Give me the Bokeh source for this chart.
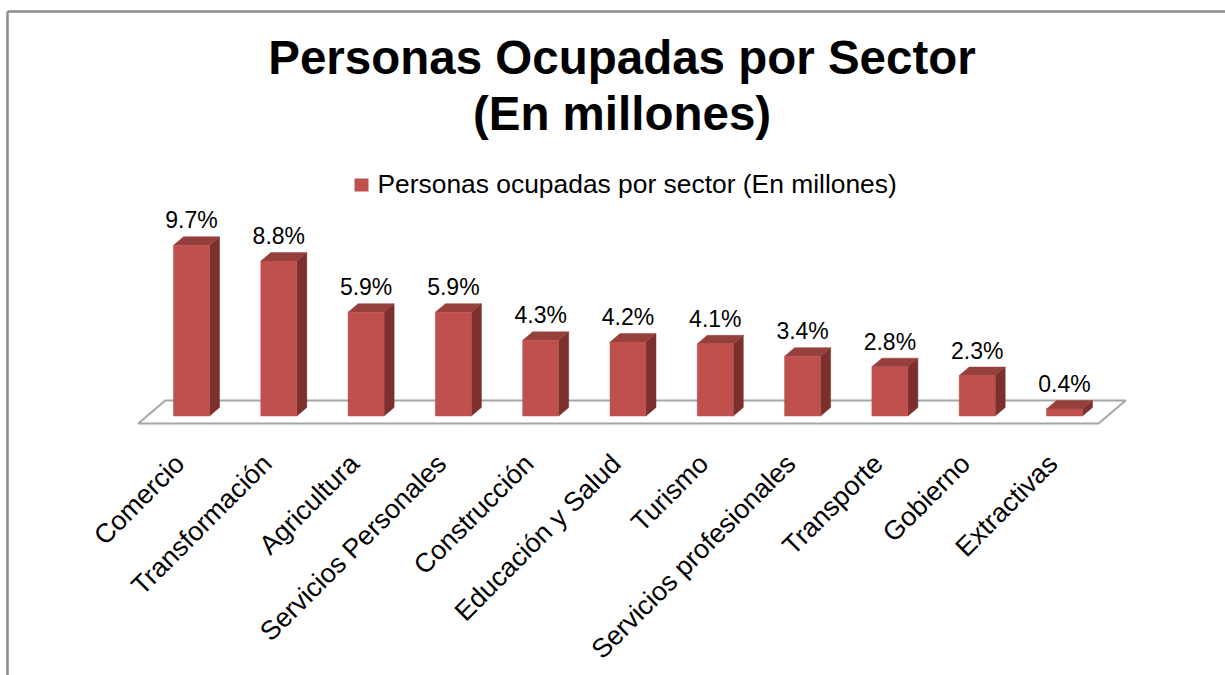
import math
from bokeh.plotting import figure
from bokeh.models import Range1d, ColumnDataSource
from bokeh.core.properties import value
from bokeh.embed import file_html
from bokeh.resources import INLINE

# ---- data ----
categories = ["Comercio", "Transformación", "Agricultura", "Servicios Personales",
              "Construcción", "Educación y Salud", "Turismo", "Servicios profesionales",
              "Transporte", "Gobierno", "Extractivas"]
values = [9.7, 8.8, 5.9, 5.9, 4.3, 4.2, 4.1, 3.4, 2.8, 2.3, 0.4]
value_labels = [f"{v}%" for v in values]
series_name = "Personas ocupadas por sector (En millones)"
title_lines = ["Personas Ocupadas por Sector", "(En millones)"]

# ---- layout / scale helpers (screen pixels -> data units) ----
W, H = 1225, 675
OFF = 0
PAGE_X0, PX_PER_CAT = 191.0, 87.3
PAGE_Y0, PX_PER_UNIT = 415.5, 17.6

def xd(px):
    return (px - PAGE_X0) / PX_PER_CAT

def yd(py):
    return (PAGE_Y0 - py) / PX_PER_UNIT

FONT = value("Liberation Sans")
FRONT = "#C0504D"
SIDE = "#7B302E"
TOP = "#96403D"
BL = 0.37  # baseline correction (em)

p = figure(width=W, height=H, x_range=Range1d(xd(OFF), xd(OFF + W)),
           y_range=Range1d(yd(OFF + H), yd(OFF)), output_backend="svg",
           toolbar_location=None, min_border=0, title=None,
           x_axis_location=None, y_axis_location=None)
p.xgrid.visible = False
p.ygrid.visible = False
p.outline_line_color = None
p.background_fill_color = "white"
p.border_fill_color = "white"

# chart border (top and left)
p.segment(x0=[xd(7), xd(7)], y0=[yd(11), yd(11)], x1=[xd(OFF + W), xd(7)], y1=[yd(11), yd(OFF + H)],
          line_color="#8C8C8C", line_width=2.5)

n = len(categories)
xs = list(range(n))
hw = 18.0 / PX_PER_CAT          # half bar width
ddx = 10.0 / PX_PER_CAT         # depth offset x
ddy = 8.5 / PX_PER_UNIT         # depth offset y

# floor
f_front = -(423 - PAGE_Y0) / PX_PER_UNIT
f_back = (PAGE_Y0 - 400) / PX_PER_UNIT
fl, fr = -0.61, (n - 1) + 0.39
shift = 0.31
p.patch(x=[fl, fr, fr + shift, fl + shift], y=[f_front, f_front, f_back, f_back],
        fill_color="white", line_color="#A6A6A6", line_width=2)

# side faces
side_x = [[x + hw, x + hw + ddx, x + hw + ddx, x + hw] for x in xs]
side_y = [[0, ddy, v + ddy, v] for v in values]
p.patches(xs=side_x, ys=side_y, fill_color=SIDE, line_color=SIDE, line_width=0.5)

# top faces
top_x = [[x - hw, x + hw, x + hw + ddx, x - hw + ddx] for x in xs]
top_y = [[v, v, v + ddy, v + ddy] for v in values]
p.patches(xs=top_x, ys=top_y, fill_color=TOP, line_color=TOP, line_width=0.5)

# front faces
DL_FS = 23.0
src = ColumnDataSource(dict(x=xs, v=values, lab=value_labels, cat=categories,
                            lx=[x - 0.256 for x in xs], ly=[yd(448)] * n,
                            ty=[v + ddy + (8.0 + BL * DL_FS) / PX_PER_UNIT for v in values]))
p.vbar(x="x", top="v", bottom=0, width=2 * hw, source=src, fill_color=FRONT,
       line_color="#B84C49", line_width=0.5)

# data labels
p.text(x="x", y="ty", text="lab", source=src, text_align="center",
       text_baseline="alphabetic", text_font=FONT, text_font_size=f"{DL_FS}px", text_color="black")

# category labels
p.text(x="lx", y="ly", text="cat", source=src, angle=math.pi / 4, text_align="right",
       text_baseline="top", text_font=FONT, text_font_size="26.8px", text_color="black")

# title
T_FS = 47.5
p.text(x=[xd(621.5), xd(621.5)], y=[yd(75 - BL * T_FS), yd(131 - BL * T_FS)], text=title_lines,
       text_align="center", text_baseline="alphabetic", text_font=FONT,
       text_font_size=f"{T_FS}px", text_font_style="bold", text_color="black")

# legend
L_FS = 26.4
p.rect(x=[xd(361)], y=[yd(184.5)], width=14, height=13, width_units="screen",
       height_units="screen", fill_color=FRONT, line_color=None)
p.text(x=[xd(377)], y=[yd(193 - BL * L_FS)], text=[series_name], text_align="left",
       text_baseline="alphabetic", text_font=FONT, text_font_size=f"{L_FS}px", text_color="black")

open("out.html", "w").write(file_html(p, INLINE))
